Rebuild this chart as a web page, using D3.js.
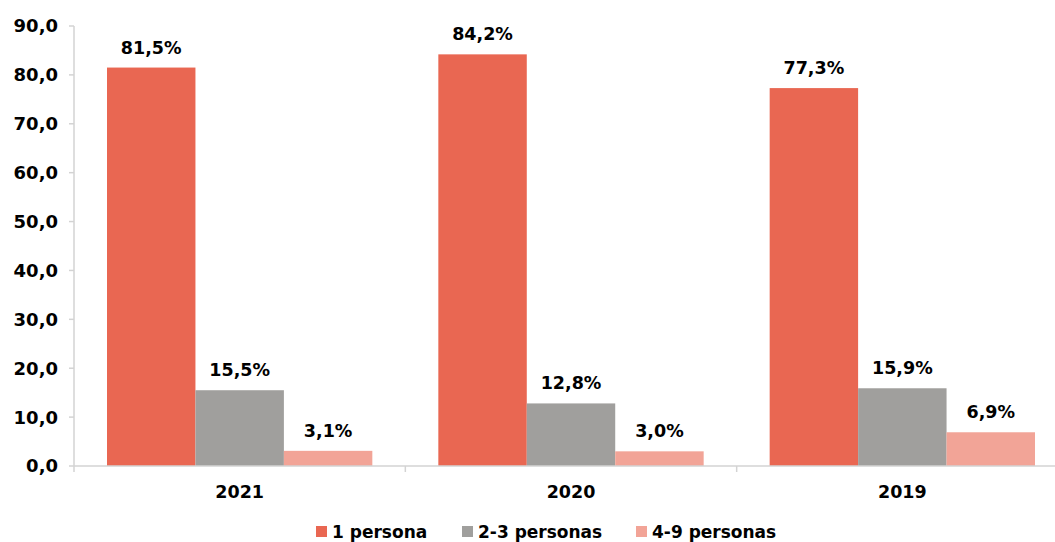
<!DOCTYPE html>
<html><head><meta charset="utf-8">
<script src="https://cdn.jsdelivr.net/npm/d3@7"></script>
<style>body{margin:0;background:#fff}svg{display:block}text{font-family:"DejaVu Sans",sans-serif;font-weight:bold;fill:#000}</style>
</head><body><svg id="c" width="1055" height="542"></svg>
<script>
const categories = ["2021", "2020", "2019"];
const seriesNames = ["1 persona", "2-3 personas", "4-9 personas"];
const persona1 = [81.5, 84.2, 77.3];
const personas23 = [15.5, 12.8, 15.9];
const personas49 = [3.1, 3.0, 6.9];
const yTicks = [0, 10, 20, 30, 40, 50, 60, 70, 80, 90];
const colors = ["#E96752", "#A09F9D", "#F2A497"];

const series = [persona1, personas23, personas49];
const svg = d3.select("#c");
const x0 = d3.scaleBand().domain(categories).range([74, 1068]).paddingInner(0).paddingOuter(0);
const x1 = d3.scaleBand().domain(seriesNames).range([33, x0.bandwidth() - 33]);
const y = d3.scaleLinear().domain([0, 90]).range([466, 26]);
const fmt = v => d3.format(".1f")(v).replace(".", ",");
const axisColor = "#D3D3D3";
const fs = 17.5;

// y axis
svg.append("line").attr("x1", 74).attr("x2", 74).attr("y1", y(90)).attr("y2", y(0)+6).attr("stroke", axisColor).attr("stroke-width", 1.5);
yTicks.forEach(t => {
  svg.append("line").attr("x1", 69).attr("x2", 74).attr("y1", y(t)).attr("y2", y(t)).attr("stroke", axisColor).attr("stroke-width", 1.5);
  svg.append("text").attr("x", 58).attr("y", y(t)).attr("dy", "0.36em").attr("text-anchor", "end").attr("font-size", 18).text(fmt(t));
});

// bars
categories.forEach((c, ci) => {
  series.forEach((s, si) => {
    const bx = x0(c) + x1(seriesNames[si]);
    svg.append("rect").attr("x", bx).attr("y", y(s[ci])).attr("width", x1.bandwidth()).attr("height", y(0) - y(s[ci])).attr("fill", colors[si]);
    svg.append("text").attr("x", bx + x1.bandwidth()/2).attr("y", y(s[ci]) - 14).attr("text-anchor", "middle").attr("font-size", fs).text(fmt(s[ci]) + "%");
  });
});

// x axis
svg.append("line").attr("x1", 74).attr("x2", 1068).attr("y1", y(0)).attr("y2", y(0)).attr("stroke", axisColor).attr("stroke-width", 1.5);
categories.forEach((c, ci) => {
  if (ci > 0) svg.append("line").attr("x1", x0(c)).attr("x2", x0(c)).attr("y1", y(0)).attr("y2", y(0)+6).attr("stroke", axisColor).attr("stroke-width", 1.5);
  svg.append("text").attr("x", x0(c) + x0.bandwidth()/2).attr("y", 498).attr("text-anchor", "middle").attr("font-size", fs).text(c);
});

// legend
const legX = [316, 462, 636];
seriesNames.forEach((n, i) => {
  svg.append("rect").attr("x", legX[i]).attr("y", 526).attr("width", 11).attr("height", 11).attr("fill", colors[i]);
  svg.append("text").attr("x", legX[i] + 16).attr("y", 538).attr("font-size", 17).text(n);
});
</script></body></html>
